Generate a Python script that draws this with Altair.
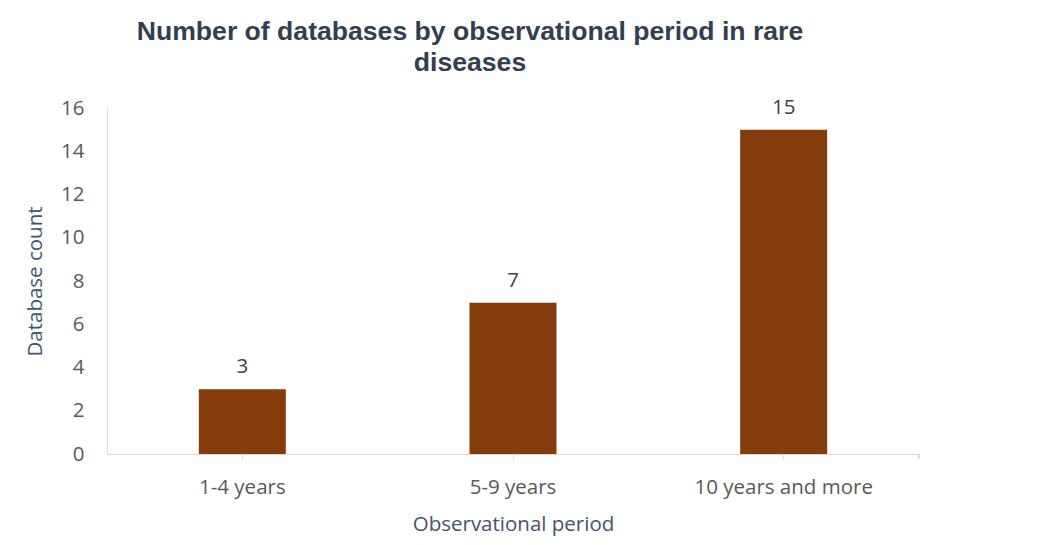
import altair as alt
import pandas as pd

categories = ["1-4 years", "5-9 years", "10 years and more"]
counts = [3, 7, 15]

df = pd.DataFrame({"period": categories, "count": counts})

W, H = 812, 346
FS = 20.5

x = alt.X("period:N", sort=categories, title="Observational period",
          scale=alt.Scale(paddingInner=0, paddingOuter=0),
          axis=alt.Axis(labelAngle=0, labelFont="Open Sans", labelFontSize=FS,
                        labelColor="#595959", titleFont="Open Sans", titleFontSize=FS,
                        titleFontWeight="normal", titleColor="#44546A",
                        domainColor="#D9D9D9", tickColor="#D9D9D9", tickSize=5,
                        labelPadding=18, titlePadding=17))
y = alt.Y("count:Q", title="Database count",
          scale=alt.Scale(domain=[0, 16], nice=False),
          axis=alt.Axis(values=list(range(0, 17, 2)), grid=False, ticks=False,
                        labelFont="Open Sans", labelFontSize=FS, labelColor="#595959",
                        titleFont="Open Sans", titleFontSize=FS, titleFontWeight="normal",
                        titleColor="#44546A", domainColor="#D9D9D9",
                        labelPadding=23, titlePadding=15))

bars = alt.Chart(df).mark_bar(color="#843C0C", size=87).encode(x=x, y=y)
labels = alt.Chart(df).mark_text(baseline="bottom", dy=-12, font="Open Sans",
                                 fontSize=FS, color="#404040").encode(
    x=alt.X("period:N", sort=categories), y="count:Q", text="count:Q")
endtick = alt.Chart(df).mark_rule(color="#D9D9D9").encode(
    x=alt.value(W), y=alt.value(H), y2=alt.value(H + 5))

chart = (bars + labels + endtick).properties(
    width=W, height=H,
    title=alt.TitleParams(
        ["Number of databases by observational period in rare", "diseases"],
        font="Liberation Sans", fontSize=26.6, fontWeight="bold", color="#333F50",
        anchor="middle", dx=-43, lineHeight=31, offset=21),
    autosize=alt.AutoSizeParams(type="none"),
    padding={"left": 99, "top": 100, "right": 100, "bottom": 82},
).configure_view(stroke=None)

chart.save("out.html", embed_options={"renderer": "svg", "actions": False})
